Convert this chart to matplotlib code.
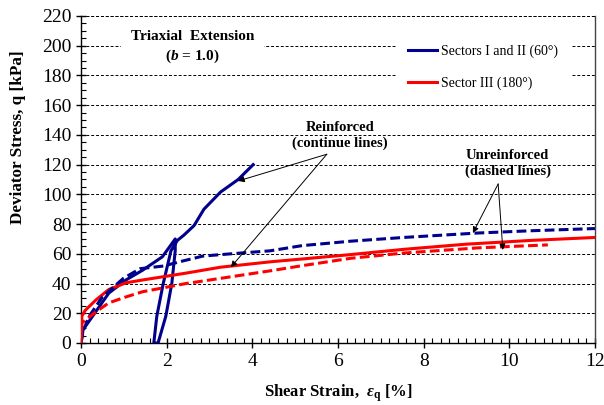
import numpy as np
import matplotlib
matplotlib.use("Agg")
import matplotlib.pyplot as plt
from matplotlib.ticker import MultipleLocator

plt.rcParams["font.family"] = ["Liberation Serif", "DejaVu Serif"]
plt.rcParams["mathtext.fontset"] = "custom"
plt.rcParams["mathtext.rm"] = "Liberation Serif:bold"
plt.rcParams["mathtext.it"] = "Liberation Serif:italic:bold"
plt.rcParams["mathtext.bf"] = "Liberation Serif:bold"

# --- data ---
# reinforced, sectors I and II (load, unload, reload)
blue_solid_x = [0, 0.05, 0.27, 0.65, 1.05, 1.44, 1.9, 2.2,
                2.2, 2.12, 1.98, 1.8,
                1.7, 1.77, 1.92, 2.1, 2.25, 2.4, 2.64, 2.87,
                3.26, 3.67, 4.02]
blue_solid_y = [0, 9, 18, 33.6, 42.4, 49, 58, 70,
                62, 40, 18, 0,
                0, 18, 40, 62, 69, 72.5, 79, 90,
                101.6, 110, 120]
# unreinforced, sectors I and II
blue_dash_x = [0, 0.05, 0.19, 0.5, 0.99, 1.38, 1.93, 2.31, 2.85, 3.63, 4.41, 5.16,
               6.3, 7.53, 9.27, 10.5, 12.0]
blue_dash_y = [0, 8, 18, 31, 43.5, 50, 51.8, 54.7, 58.5, 60.3, 62, 65.5,
               68.5, 71, 74, 75.5, 77]
# reinforced, sector III
red_solid_x = [0, 0.01, 0.02, 0.1, 0.35, 0.65, 1.05, 1.44, 2.45, 3.26, 4.45, 5.16,
               6.3, 7.53, 9.0, 10.5, 12.0]
red_solid_y = [0, 8, 18, 22, 29, 36, 40.5, 42.4, 47, 51, 54.7, 56.5,
               59.5, 63, 66.5, 69, 71]
# unreinforced, sector III
red_dash_x = [0, 0.01, 0.02, 0.35, 0.65, 1.05, 1.44, 2.45, 2.87, 4.45, 5.16, 6.3,
              7.53, 9.27, 10.9]
red_dash_y = [0, 7, 13.5, 21, 27, 31, 34.5, 40, 41.8, 48.7, 52, 57,
              60.5, 64, 66]

navy = "#00008c"
red = "#ff0000"

fig = plt.figure(figsize=(6.04, 4.05), dpi=100)
ax = fig.add_axes([0.1341, 0.1531, 0.8509, 0.8074])

ax.set_xlim(0, 12)
ax.set_ylim(0, 220)
ax.xaxis.set_major_locator(MultipleLocator(2))
ax.xaxis.set_minor_locator(MultipleLocator(0.2))
ax.yaxis.set_major_locator(MultipleLocator(20))
ax.yaxis.set_minor_locator(MultipleLocator(5))
ax.tick_params(which="major", direction="inout", length=7, width=1, labelsize=14)
ax.tick_params(which="minor", direction="in", length=3.5, width=0.8)
grid_style = dict(color="black", lw=0.7, linestyle=(0, (3, 2)))
ax.grid(True, which="major", axis="y", **grid_style)
ax.axhline(220, clip_on=False, zorder=6, **grid_style)
ax.spines["top"].set_visible(False)
for s in ["left", "bottom", "right"]:
    ax.spines[s].set_linewidth(1.0)
ax.spines["right"].set_color("#444444")

lw = 2.2
dash = (0, (3.2, 1.4))
ax.plot(blue_solid_x, blue_solid_y, color=navy, lw=lw, zorder=3,
        label="Sectors I and II (60°)")
ax.plot(red_solid_x, red_solid_y, color=red, lw=lw, zorder=3,
        label="Sector III (180°)")
ax.plot(blue_dash_x, blue_dash_y, color=navy, lw=lw, linestyle=dash, zorder=3)
ax.plot(red_dash_x, red_dash_y, color=red, lw=lw, linestyle=dash, zorder=3)

leg = ax.legend(loc="upper left", bbox_to_anchor=(0.612, 0.95), frameon=True,
                fontsize=10, handlelength=2.1, handletextpad=0.3,
                labelspacing=1.3, borderpad=0.9, borderaxespad=0)
leg.get_frame().set_facecolor("white")
leg.get_frame().set_edgecolor("none")
leg.get_frame().set_alpha(1)

ax.text(2.6, 199, "Triaxial  Extension\n($b$ = 1.0)", ha="center", va="center",
        fontsize=11, fontweight="bold", linespacing=1.4, zorder=4,
        bbox=dict(facecolor="white", edgecolor="none", pad=7))

arrow = dict(arrowstyle="-|>", color="black", lw=0.7, mutation_scale=9,
             shrinkA=0, shrinkB=0)
ax.text(6.05, 139.5, "Reinforced\n(continue lines)", ha="center", va="center",
        fontsize=10.5, fontweight="bold", linespacing=1.25, zorder=4)
ax.annotate("", xy=(3.67, 109), xytext=(5.74, 127), arrowprops=arrow)
ax.annotate("", xy=(3.5, 51), xytext=(5.74, 127), arrowprops=arrow)

ax.text(9.96, 120.5, "Unreinforced\n(dashed lines)", ha="center", va="center",
        fontsize=10.5, fontweight="bold", linespacing=1.25, zorder=4)
ax.annotate("", xy=(9.15, 74), xytext=(9.74, 107), arrowprops=arrow)
ax.annotate("", xy=(9.85, 62.6), xytext=(9.74, 107), arrowprops=arrow)

ax.set_xlabel(r"Shear Strain,  $\varepsilon_\mathbf{q}$ [%]", fontsize=12,
              fontweight="bold", va="center")
ax.xaxis.set_label_coords(0.5, -0.155)
ax.set_ylabel("Deviator Stress, q [kPa]", fontsize=12.3, fontweight="bold",
              va="center")
ax.yaxis.set_label_coords(-0.123, 0.63)

fig.savefig("out.png", dpi=100)
